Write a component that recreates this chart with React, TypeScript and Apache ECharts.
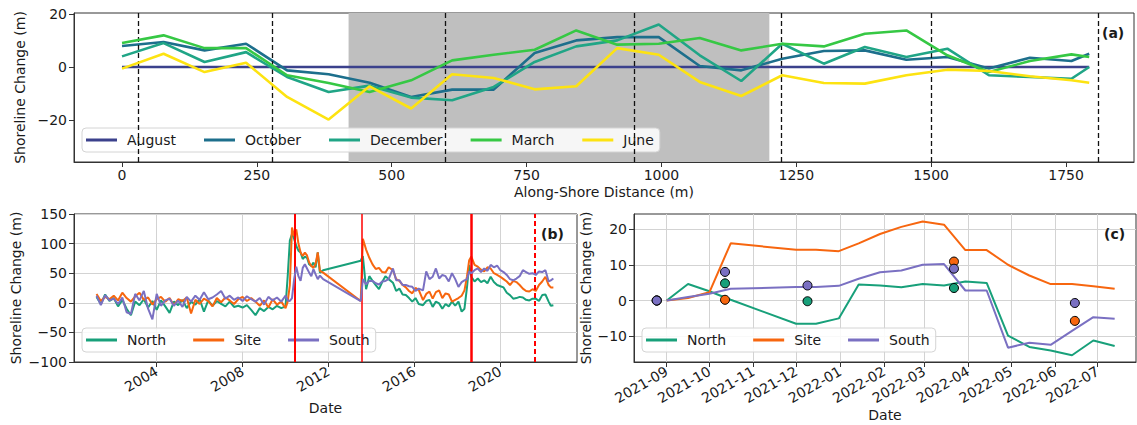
import React, { useEffect, useRef } from 'react';
import * as echarts from 'echarts';

// ---------- Panel (a) ----------
const distances = [0, 77, 153, 230, 306, 383, 459, 536, 612, 689, 765, 842, 918, 995, 1071, 1148, 1224, 1301, 1377, 1454, 1530, 1607, 1683, 1760, 1793];
const august = [0, 0, 0, 0, 0, 0, 0, 0, 0, 0, 0, 0, 0, 0, 0, 0, 0, 0, 0, 0, 0, 0, 0, 0, 0];
const october = [7.9, 9.4, 6.25, 8.75, -1.25, -2.75, -5.9, -11.25, -8.5, -8.5, 5.25, 10, 11.25, 11.25, 0.4, -1.25, 3.1, 6, 6.25, 2.75, 3.75, -0.6, 3.5, 2.25, 5];
const december = [4, 9, 1.9, 5.6, -3.75, -9.4, -7, -11.5, -12.5, -7.5, 1.9, 7.75, 10, 16, 4.4, -5.25, 8.75, 1.25, 7.5, 3.75, 6.9, -3.1, -3.75, -4.4, 0];
const march = [9, 11.9, 7.1, 7.1, -3.1, -6, -9.4, -5, 2.5, 4.6, 6.5, 13.75, 8.4, 8.75, 10.9, 6.25, 8.75, 7.75, 12.5, 13.75, 4.4, -1.9, 2.25, 4.75, 3.75];
const june = [-0.6, 5, -1.9, 1.6, -11.25, -19.75, -7.25, -15.6, -2.75, -4.1, -8.4, -7.25, 7.1, 4.6, -5.6, -10.9, -3.1, -6, -6.25, -3.1, -1, -1.5, -3.5, -5, -5.9];
const aTicksX = [0, 250, 500, 750, 1000, 1250, 1500, 1750];
const aTicksY = [-20, 0, 20];
const aDashed = [30, 278, 600, 950, 1222, 1500, 1810];
const aShade = [420, 1200];

// ---------- Panel (b) ----------
const bYears = [
  2001.2, 2001.4, 2001.6, 2001.8, 2002.0, 2002.2, 2002.4, 2002.6, 2002.8, 2003.0,
  2003.2, 2003.4, 2003.6, 2003.8, 2004.0, 2004.2, 2004.4, 2004.6, 2004.8, 2005.0,
  2005.2, 2005.4, 2005.6, 2005.8, 2006.0, 2006.2, 2006.4, 2006.6, 2006.8, 2007.0,
  2007.2, 2007.4, 2007.6, 2007.8, 2008.0, 2008.2, 2008.4, 2008.6, 2008.8, 2009.0,
  2009.2, 2009.4, 2009.6, 2009.8, 2010.0,
  2010.1, 2010.2, 2010.3, 2010.4, 2010.5, 2010.6, 2010.7, 2010.8, 2010.9, 2011.0,
  2011.1, 2011.2, 2011.3, 2011.4, 2011.5, 2011.6, 2011.75,
  2013.5, 2013.6, 2013.75, 2013.9, 2014.05, 2014.2, 2014.35, 2014.5, 2014.65, 2014.8,
  2015.0, 2015.15, 2015.3, 2015.45, 2015.6, 2015.75, 2015.9, 2016.05, 2016.2, 2016.4,
  2016.55, 2016.7, 2016.85, 2017.0, 2017.15, 2017.3, 2017.45, 2017.6, 2017.75, 2017.9,
  2018.05, 2018.2, 2018.33, 2018.45, 2018.55, 2018.65, 2018.8, 2018.95, 2019.1, 2019.25,
  2019.4, 2019.55, 2019.7, 2019.85, 2020.0, 2020.15, 2020.3, 2020.45, 2020.6, 2020.75,
  2020.9, 2021.05, 2021.2, 2021.35, 2021.5, 2021.65, 2021.8, 2021.95, 2022.1, 2022.25,
  2022.35, 2022.47
];
const bNorth = [
  10, -2, 14, 3, 8, -6, 5, -10, -21, 2, -4, 6, -8, 3, -12, 4, -6, -17, 2, -4,
  5, -9, 2, -3, 6, -15, 4, -5, 3, -2, -6, 2, -7, -5, -8, -4, -12, -21, -9, -14,
  -7, -11, -5, -9, -6,
  45, 105, 116, 108, 96, 88, 85, 74, 78, 76, 65, 62, 68, 60, 85, 51, 55,
  71, 79, 23, 45, 37, 30, 23, 35, 45, 40, 34, 20, 24, 14, 13, 8, 2, 8, -2, -4,
  3, 5, -7, 2, -1, -10, -2, -6, 2, -5, 2, -15, -10, 27, 64, 44, 36, 41, 35, 38,
  33, 44, 35, 30, 28, 26, 17, 13, 7, 8, 10, 9, 5, 4, 7, 7, 3, 13, 14, 2, -5, -4
];
const bSite = [
  15, 3, 10, 6, 12, 4, 17, 8, 2, 11, 17, 5, 9, -3, 6, 10, 2, 8, -4, 6,
  3, 9, -18, 5, -2, 7, 3, -6, 8, 1, 9, 4, -2, 6, 10, 3, 8, 2, -5, 4,
  -8, 6, -3, 2, -9,
  2, 30, 127, 113, 124, 100, 85, 79, 85, 80, 68, 62, 59, 66, 85, 54, 51,
  3, 108, 90, 76, 65, 57, 59, 52, 51, 60, 55, 40, 37, 30, 26, 20, 16, 25, 22, 4.5,
  15, 19, 7, 18, 21, 8, 16, 14, 2, 5, 8, 12, 21, 45, 72, 78, 64, 61, 56, 53,
  60, 58, 50, 47, 44, 40, 36, 30, 37, 35, 30, 24, 20, 19, 23, 20, 30, 36, 44, 30, 26, 26
];
const bSouth = [
  12, -4, 13, 4, 7, -2, 9, -16, -19, 15, 4, 20, -10, -28, 15, -5, 4, 7, -5, 4,
  -7, 10, 2, 12, 5, 18, 6, 9, 14, 20, 7, 12, 5, 9, 3, 11, 6, 2, 8, -3,
  10, 4, 9, 2, 12,
  4, 3, 8, 40, 61, 45, 37, 59, 65, 58, 51, 45, 57, 48, 40, 46, 40,
  3, 40, 31, 37, 37, 33, 31, 36, 37, 40, 58, 38, 38, 30, 30, 28, 27, 20, 24, 21,
  53, 40, 44, 58, 41, 47, 45, 36, 50, 40, 27, 35, 38, 40, 53, 50, 55, 58, 52, 58,
  54, 64, 60, 63, 55, 52, 47, 40, 38, 41, 45, 55, 52, 49, 50, 47, 53, 52, 55, 36, 38, 41
];
const bTicksX = [2004, 2008, 2012, 2016, 2020];
const bRedSolid = [2010.43, 2013.53, 2018.65];
const bRedWidths = [2, 1.5, 2.5];
const bRedDashed = [2021.6];

// ---------- Panel (c) ----------
const cDates = ['2021-09-01', '2021-09-16', '2021-10-01', '2021-10-16', '2021-12-01', '2021-12-15', '2021-12-31', '2022-01-14', '2022-01-29', '2022-02-13', '2022-02-28', '2022-03-15', '2022-03-30', '2022-04-14', '2022-04-29', '2022-05-14', '2022-05-29', '2022-06-13', '2022-06-28', '2022-07-13'];
const cNorth = [0, 4.6, 2.6, 0.2, -6.5, -6.5, -5, 4.5, 4.2, 3.7, 4.6, 4.2, 5.3, 4.9, -9.8, -13, -14, -15.3, -11.2, -12.7];
const cSite = [0, 0.7, 2.3, 16, 14.2, 14.2, 13.8, 16, 18.6, 20.6, 22.1, 21.2, 14.1, 14.1, 10, 7, 4.6, 4.6, 4, 3.3];
const cSouth = [0, 1, 1.9, 3.3, 3.75, 3.75, 4.1, 6.1, 7.9, 8.4, 10, 10.2, 2.8, 2.8, -13.2, -11.8, -12.4, -8.5, -4.65, -5.1];
const cObsDates = ['2021-08-25', '2021-10-12', '2021-12-09', '2022-03-22', '2022-06-15'];
const cObsNorth = [0, 4.8, -0.2, 3.5, null];
const cObsSite = [0, 0.2, null, 10.9, -5.7];
const cObsSouth = [0, 8, 4.2, 8.9, -0.7];
const cTicksX = ['2021-09-01', '2021-10-01', '2021-11-01', '2021-12-01', '2022-01-01', '2022-02-01', '2022-03-01', '2022-04-01', '2022-05-01', '2022-06-01', '2022-07-01'];
const cTicksY = [-10, 0, 10, 20];

const aNames = ['August', 'October', 'December', 'March', 'June'];
const aColors = ['#3b418c', '#1d6f8c', '#20a586', '#36c844', '#fde311'];
const sNames = ['North', 'Site', 'South'];
const sColors = ['#18a07a', '#f7660f', '#7a70c2'];

const ts = (s: string) => {
  const [y, m, d] = s.split('-').map(Number);
  return Date.UTC(y, m - 1, d);
};

const TXT = '#1a1a1a';
const AX = '#333333';
const FONT = 'DejaVu Sans';
const numFmt = (v: number) => String(Math.round(v)).replace('-', '\u2212');

function baseAxis(extra: any) {
  return {
    axisLine: { show: true, onZero: false, lineStyle: { color: AX, width: 1 } },
    axisTick: { show: true, length: 5, inside: false, lineStyle: { color: AX, width: 1 } },
    axisLabel: { color: TXT, fontSize: 14, fontFamily: FONT },
    nameTextStyle: { color: TXT, fontSize: 14, fontFamily: FONT },
    nameLocation: 'middle',
    splitLine: { show: false },
    ...extra,
  };
}

function legendBase(names: string[], left: number, top: number, gap: number) {
  return {
    data: names,
    left,
    top,
    orient: 'horizontal',
    icon: 'rect',
    itemWidth: 31,
    itemHeight: 3,
    itemGap: gap,
    padding: [5, 6, 5, 4],
    backgroundColor: 'rgba(255,255,255,0.85)',
    borderColor: '#d4d4d4',
    borderWidth: 1,
    borderRadius: 4,
    textStyle: { color: TXT, fontSize: 14, fontFamily: FONT, padding: [0, 0, 0, 5] },
    selectedMode: false,
  };
}

function buildOption() {
  const aSeriesVals = [august, october, december, march, june];
  const aSeries = aSeriesVals.map((vals, k) => ({
    name: aNames[k],
    type: 'line',
    xAxisIndex: 0,
    yAxisIndex: 0,
    symbol: 'none',
    z: 3 + k,
    color: aColors[k],
    itemStyle: { color: aColors[k] },
    lineStyle: { color: aColors[k], width: 2.6 },
    data: distances.map((d, i) => [d, vals[i]]),
  }));

  const aDecor = {
    name: 'aDecor',
    type: 'line',
    xAxisIndex: 0,
    yAxisIndex: 0,
    data: [],
    z: 1,
    silent: true,
    markArea: {
      silent: true,
      itemStyle: { color: '#bfbfbf' },
      data: [[{ xAxis: aShade[0] }, { xAxis: aShade[1] }]],
    },
  };
  const aDash = {
    name: 'aDash',
    type: 'line',
    xAxisIndex: 0,
    yAxisIndex: 0,
    data: [],
    z: 2,
    silent: true,
    markLine: {
      silent: true,
      symbol: ['none', 'none'],
      label: { show: false },
      lineStyle: { color: '#111', width: 1.3, type: [5, 3] },
      data: aDashed.map((x) => ({ xAxis: x })),
    },
  };

  const bVals = [bNorth, bSite, bSouth];
  const bSeries = bVals.map((vals, k) => ({
    name: sNames[k],
    type: 'line',
    xAxisIndex: 1,
    yAxisIndex: 1,
    symbol: 'none',
    z: 3 + k,
    color: sColors[k],
    itemStyle: { color: sColors[k] },
    lineStyle: { color: sColors[k], width: 2 },
    data: bYears.map((y, i) => [y, vals[i]]),
  }));
  const bRed = {
    name: 'bRed',
    type: 'line',
    xAxisIndex: 1,
    yAxisIndex: 1,
    data: [],
    z: 8,
    silent: true,
    markLine: {
      silent: true,
      symbol: ['none', 'none'],
      label: { show: false },
      data: [
        ...bRedSolid.map((x, i) => ({ xAxis: x, lineStyle: { color: '#ff0000', width: bRedWidths[i], type: 'solid' } })),
        ...bRedDashed.map((x) => ({ xAxis: x, lineStyle: { color: '#ff0000', width: 2, type: [5, 3] } })),
      ],
    },
  };

  const cVals = [cNorth, cSite, cSouth];
  const cSeries = cVals.map((vals, k) => ({
    name: sNames[k],
    type: 'line',
    xAxisIndex: 2,
    yAxisIndex: 2,
    symbol: 'none',
    z: 3 + k,
    color: sColors[k],
    itemStyle: { color: sColors[k] },
    lineStyle: { color: sColors[k], width: 2 },
    data: cDates.map((d, i) => [ts(d), vals[i]]),
  }));
  const obsOrder = [
    { vals: cObsSite, color: sColors[1], name: 'Site survey' },
    { vals: cObsNorth, color: sColors[0], name: 'North survey' },
    { vals: cObsSouth, color: sColors[2], name: 'South survey' },
  ];
  const cScatter = obsOrder.map((o, k) => ({
    name: o.name,
    type: 'scatter',
    xAxisIndex: 2,
    yAxisIndex: 2,
    symbolSize: 9,
    z: 10 + k,
    itemStyle: { color: o.color, borderColor: '#000', borderWidth: 1, opacity: 1 },
    data: cObsDates
      .map((d, i) => (o.vals[i] === null ? null : [ts(d), o.vals[i]]))
      .filter((p) => p !== null),
  }));

  const gridLine = { show: true, lineStyle: { color: '#d3d3d3', width: 1 } };
  const frame = { show: true, borderColor: AX, borderWidth: 1, backgroundColor: 'transparent', outerBoundsMode: 'none' };

  const fmtMonth = (v: number) => {
    const d = new Date(v);
    return d.getUTCFullYear() + '-' + String(d.getUTCMonth() + 1).padStart(2, '0');
  };

  return {
    animation: false,
    backgroundColor: '#ffffff',
    textStyle: { fontFamily: FONT },
    grid: [
      { left: 74, top: 13, width: 1060, height: 149, ...frame },
      { left: 74, top: 214, width: 503, height: 148, ...frame },
      { left: 634, top: 214, width: 502, height: 148, ...frame },
    ],
    xAxis: [
      baseAxis({
        type: 'value',
        gridIndex: 0,
        min: -89,
        max: 1876,
        name: 'Along-Shore Distance (m)',
        nameGap: 23,
        axisTick: { show: true, length: 5, lineStyle: { color: AX }, customValues: aTicksX },
        axisLabel: { color: TXT, fontSize: 14, fontFamily: FONT, margin: 6, customValues: aTicksX, formatter: numFmt },
      }),
      baseAxis({
        type: 'value',
        gridIndex: 1,
        min: 2000.15,
        max: 2023.57,
        name: 'Date',
        nameGap: 39,
        splitLine: gridLine,
        axisTick: { show: true, length: 5, lineStyle: { color: AX }, customValues: bTicksX },
        axisLabel: {
          color: TXT, fontSize: 14, fontFamily: FONT, margin: 8, rotate: 30,
          customValues: bTicksX, formatter: numFmt,
        },
      }),
      baseAxis({
        type: 'value',
        gridIndex: 2,
        min: ts('2021-08-09'),
        max: ts('2022-07-28'),
        name: 'Date',
        nameGap: 46,
        splitLine: gridLine,
        axisTick: { show: true, length: 5, lineStyle: { color: AX }, customValues: cTicksX.map(ts) },
        axisLabel: {
          color: TXT, fontSize: 14, fontFamily: FONT, margin: 8, rotate: 30,
          customValues: cTicksX.map(ts), formatter: fmtMonth,
        },
      }),
    ],
    yAxis: [
      baseAxis({
        type: 'value',
        gridIndex: 0,
        min: -35.7,
        max: 20.3,
        name: 'Shoreline Change (m)',
        nameGap: 41,
        axisTick: { show: true, length: 5, lineStyle: { color: AX }, customValues: aTicksY },
        axisLabel: { color: TXT, fontSize: 14, fontFamily: FONT, margin: 7, customValues: aTicksY, formatter: numFmt },
      }),
      baseAxis({
        type: 'value',
        gridIndex: 1,
        min: -100,
        max: 150,
        interval: 50,
        name: 'Shoreline Change (m)',
        nameGap: 51,
        splitLine: gridLine,
        axisLabel: { color: TXT, fontSize: 14, fontFamily: FONT, margin: 7, formatter: numFmt },
      }),
      baseAxis({
        type: 'value',
        gridIndex: 2,
        min: -17.2,
        max: 24.2,
        name: 'Shoreline Change (m)',
        nameGap: 41,
        splitLine: gridLine,
        axisTick: { show: true, length: 5, lineStyle: { color: AX }, customValues: cTicksY },
        axisLabel: { color: TXT, fontSize: 14, fontFamily: FONT, margin: 7, customValues: cTicksY, formatter: numFmt },
      }),
    ],
    legend: [
      legendBase(aNames, 82, 128, 28),
      legendBase(sNames, 82, 328, 27),
      legendBase(sNames, 642, 328, 27),
    ],
    graphic: [
      { type: 'text', left: 1102, top: 26, z: 100, style: { text: '(a)', fill: TXT, font: 'bold 14px "DejaVu Sans"' } },
      { type: 'text', left: 541, top: 227, z: 100, style: { text: '(b)', fill: TXT, font: 'bold 14px "DejaVu Sans"' } },
      { type: 'text', left: 1104, top: 227, z: 100, style: { text: '(c)', fill: TXT, font: 'bold 14px "DejaVu Sans"' } },
    ],
    series: [aDecor, aDash, ...aSeries, ...bSeries, bRed, ...cSeries, ...cScatter],
  };
}

export default function App() {
  const ref = useRef<HTMLDivElement>(null);
  useEffect(() => {
    if (!ref.current) return;
    const chart = echarts.init(ref.current, null, { renderer: 'svg' });
    chart.setOption(buildOption() as any);
    return () => chart.dispose();
  }, []);
  return (
    <div
      ref={ref}
      style={{ position: 'absolute', left: 0, top: 0, width: 1137, height: 425, background: '#fff' }}
    />
  );
}
